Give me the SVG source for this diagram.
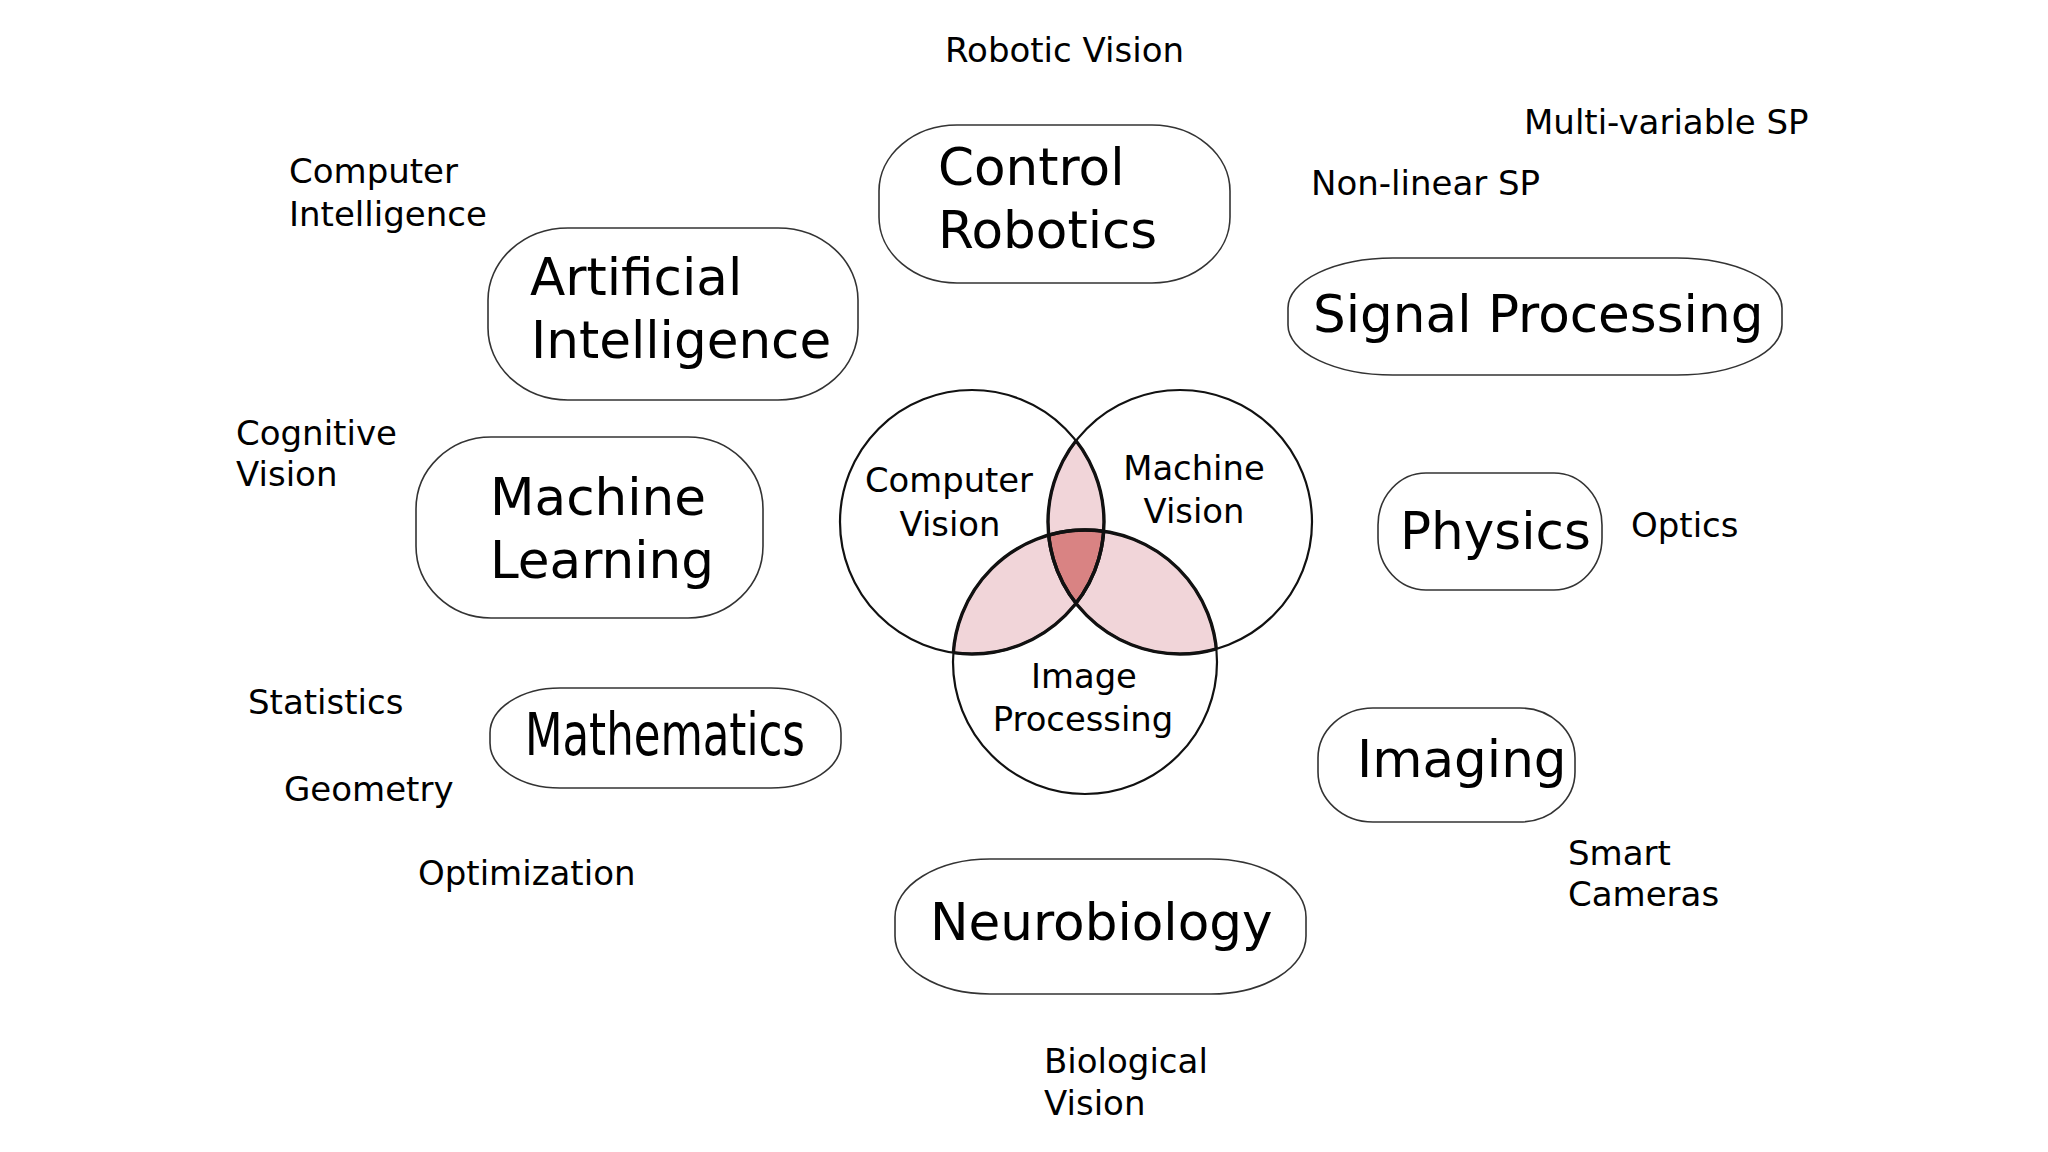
<svg xmlns="http://www.w3.org/2000/svg" width="2048" height="1152" viewBox="0 0 2048 1152">
<style>
text{font-family:"DejaVu Sans","Liberation Sans",sans-serif;fill:#000}
.big{font-size:51.6px}
.mid{font-size:33.8px}
.sm{font-size:34px}
.box{fill:#fff;stroke:#333;stroke-width:1.6}
.circ{fill:none;stroke:#111;stroke-width:2.2}
.thick{fill:none;stroke:#111;stroke-width:3.4}
.pink{fill:#f1d5d9}
.red{fill:#d98383}
</style>
<defs>
<circle id="cA" cx="972" cy="522" r="132"/>
<circle id="cB" cx="1180" cy="522" r="132"/>
<circle id="cC" cx="1085" cy="662" r="132"/>
<clipPath id="clipA"><use href="#cA"/></clipPath>
<clipPath id="clipB"><use href="#cB"/></clipPath>
<clipPath id="clipC"><use href="#cC"/></clipPath>
</defs>
<rect width="2048" height="1152" fill="#fff"/>

<g id="venn">
<g clip-path="url(#clipA)"><use href="#cB" class="pink"/><use href="#cC" class="pink"/></g>
<g clip-path="url(#clipB)"><use href="#cC" class="pink"/></g>
<g clip-path="url(#clipA)"><g clip-path="url(#clipB)"><use href="#cC" class="red"/></g></g>
<use href="#cA" class="circ"/>
<use href="#cB" class="circ"/>
<use href="#cC" class="circ"/>
<g clip-path="url(#clipA)"><use href="#cB" class="thick"/><use href="#cC" class="thick"/></g>
<g clip-path="url(#clipB)"><use href="#cA" class="thick"/><use href="#cC" class="thick"/></g>
<g clip-path="url(#clipC)"><use href="#cA" class="thick"/><use href="#cB" class="thick"/></g>
</g>
<g id="computer-vision"><text class="mid" x="949" y="492" text-anchor="middle">Computer</text><text class="mid" x="950" y="536" text-anchor="middle">Vision</text></g>
<g id="machine-vision"><text class="mid" x="1194" y="480" text-anchor="middle">Machine</text><text class="mid" x="1194" y="523" text-anchor="middle">Vision</text></g>
<g id="image-processing"><text class="mid" x="1084" y="688" text-anchor="middle">Image</text><text class="mid" x="1083" y="731" text-anchor="middle">Processing</text></g>

<g id="artificial-intelligence"><rect class="box" x="488" y="228" width="370" height="172" rx="80" ry="72"/><text class="big" x="530" y="295">Artificial</text><text class="big" x="531" y="358">Intelligence</text></g>
<g id="control-robotics"><rect class="box" x="879" y="125" width="351" height="158" rx="78" ry="66"/><text class="big" x="938" y="185">Control</text><text class="big" x="938" y="248">Robotics</text></g>
<g id="signal-processing"><rect class="box" x="1288" y="258" width="494" height="117" rx="105" ry="50"/><text class="big" x="1313" y="332">Signal Processing</text></g>
<g id="machine-learning"><rect class="box" x="416" y="437" width="347" height="181" rx="75" ry="72"/><text class="big" x="490" y="515">Machine</text><text class="big" x="490" y="578">Learning</text></g>
<g id="mathematics"><rect class="box" x="490" y="688" width="351" height="100" rx="70" ry="45"/><text x="525" y="755" style="font-family:'DejaVu Sans Condensed','DejaVu Sans',sans-serif;font-size:58px" textLength="280" lengthAdjust="spacingAndGlyphs">Mathematics</text></g>
<g id="physics"><rect class="box" x="1378" y="473" width="224" height="117" rx="48" ry="52"/><text class="big" x="1400" y="549">Physics</text></g>
<g id="imaging"><rect class="box" x="1318" y="708" width="257" height="114" rx="55" ry="50"/><text class="big" x="1357" y="777">Imaging</text></g>
<g id="neurobiology"><rect class="box" x="895" y="859" width="411" height="135" rx="95" ry="58"/><text class="big" x="930" y="940">Neurobiology</text></g>

<g id="connectors"></g>

<g id="labels">
<text class="sm" x="945" y="62">Robotic Vision</text>
<text class="sm" x="1524" y="134">Multi-variable SP</text>
<text class="sm" x="1311" y="195">Non-linear SP</text>
<text class="sm" x="289" y="183">Computer</text>
<text class="sm" x="289" y="226">Intelligence</text>
<text class="sm" x="236" y="445">Cognitive</text>
<text class="sm" x="236" y="486">Vision</text>
<text class="sm" x="1631" y="537">Optics</text>
<text class="sm" x="248" y="714">Statistics</text>
<text class="sm" x="284" y="801">Geometry</text>
<text class="sm" x="418" y="885">Optimization</text>
<text class="sm" x="1568" y="865">Smart</text>
<text class="sm" x="1568" y="906">Cameras</text>
<text class="sm" x="1044" y="1073">Biological</text>
<text class="sm" x="1044" y="1115">Vision</text>
</g>
</svg>
